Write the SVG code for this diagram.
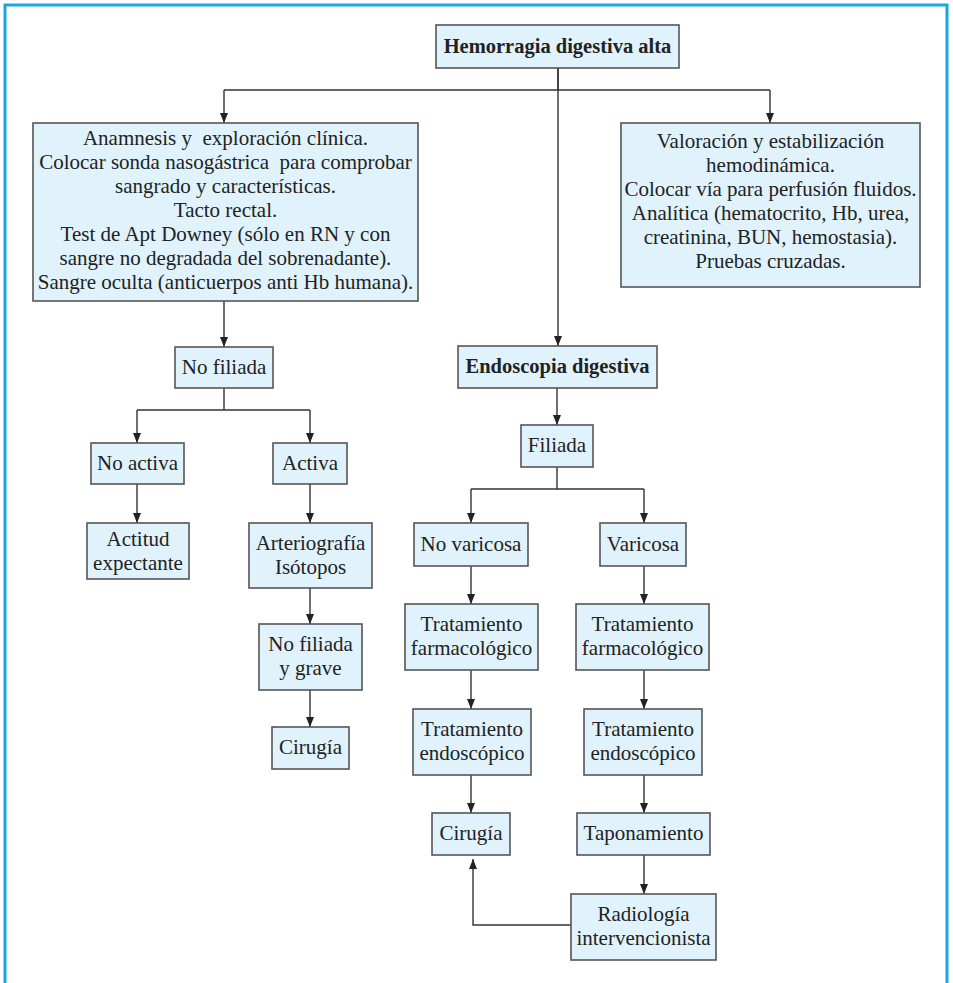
<svg xmlns="http://www.w3.org/2000/svg" width="953" height="983" viewBox="0 0 953 983">
<defs>
<marker id="ah" markerWidth="10" markerHeight="8" refX="10" refY="4" orient="auto" markerUnits="userSpaceOnUse" viewBox="0 0 10 8">
<path d="M0,0 L10,4 L0,8 Z" fill="#222"/>
</marker>
<style>
.bx{fill:#e0f2fc;stroke:#555;stroke-width:1.6}
.t{font-family:"Liberation Serif","Times New Roman",serif;font-size:21px;fill:#222;text-anchor:middle;white-space:pre}
.b{font-weight:bold;font-size:20.5px}
.c{fill:none;stroke:#333;stroke-width:1.4}
.ca{fill:none;stroke:#333;stroke-width:1.4;marker-end:url(#ah)}
</style>
</defs>
<rect width="953" height="983" fill="#fff"/>
<path d="M5,983 V5 H947 V983" fill="none" stroke="#1ba6e0" stroke-width="3"/>

<g id="connectors">
<path class="c" d="M558,68 V90 M224,90 H770"/>
<path class="ca" d="M558,68 V346"/>
<path class="ca" d="M224,90 V123"/>
<path class="ca" d="M770,90 V123"/>
<path class="ca" d="M224,301 V347"/>
<path class="c" d="M224,388 V410 M137,410 H310"/>
<path class="ca" d="M137,410 V443"/>
<path class="ca" d="M310,410 V443"/>
<path class="ca" d="M137,484 V523"/>
<path class="ca" d="M310,484 V523"/>
<path class="ca" d="M310,588 V624"/>
<path class="ca" d="M310,690 V727"/>
<path class="ca" d="M557,388 V425"/>
<path class="c" d="M557,467 V489 M471,489 H644"/>
<path class="ca" d="M471,489 V523"/>
<path class="ca" d="M644,489 V523"/>
<path class="ca" d="M471,566 V604"/>
<path class="ca" d="M644,566 V604"/>
<path class="ca" d="M471,670 V709"/>
<path class="ca" d="M644,670 V709"/>
<path class="ca" d="M471,775 V813"/>
<path class="ca" d="M644,775 V813"/>
<path class="ca" d="M644,855 V894"/>
<path class="ca" d="M571,925 H473 V859"/>
</g>

<g id="n-hemorragia">
<rect class="bx" x="436" y="25" width="243" height="43"/>
<text class="t b" x="557.5" y="53">Hemorragia digestiva alta</text>
</g>

<g id="n-anamnesis">
<rect class="bx" x="33" y="123" width="385" height="178"/>
<text class="t" x="225.5" y="145">Anamnesis y  exploración clínica.</text>
<text class="t" x="225.5" y="169">Colocar sonda nasogástrica  para comprobar</text>
<text class="t" x="225.5" y="193">sangrado y características.</text>
<text class="t" x="225.5" y="217">Tacto rectal.</text>
<text class="t" x="225.5" y="241">Test de Apt Downey (sólo en RN y con</text>
<text class="t" x="225.5" y="265">sangre no degradada del sobrenadante).</text>
<text class="t" x="225.5" y="289">Sangre oculta (anticuerpos anti Hb humana).</text>
</g>

<g id="n-valoracion">
<rect class="bx" x="621" y="123" width="299" height="164"/>
<text class="t" x="770.5" y="148">Valoración y estabilización</text>
<text class="t" x="770.5" y="172">hemodinámica.</text>
<text class="t" x="770.5" y="196">Colocar vía para perfusión fluidos.</text>
<text class="t" x="770.5" y="220">Analítica (hematocrito, Hb, urea,</text>
<text class="t" x="770.5" y="244">creatinina, BUN, hemostasia).</text>
<text class="t" x="770.5" y="268">Pruebas cruzadas.</text>
</g>

<g id="n-nofiliada">
<rect class="bx" x="175" y="347" width="98" height="41"/>
<text class="t" x="224" y="374">No filiada</text>
</g>

<g id="n-noactiva">
<rect class="bx" x="91" y="443" width="93" height="41"/>
<text class="t" x="137.5" y="470">No activa</text>
</g>

<g id="n-activa">
<rect class="bx" x="273" y="443" width="74" height="41"/>
<text class="t" x="310" y="470">Activa</text>
</g>

<g id="n-actitud">
<rect class="bx" x="87" y="523" width="102" height="56"/>
<text class="t" x="138" y="546">Actitud</text>
<text class="t" x="138" y="570">expectante</text>
</g>

<g id="n-arteriografia">
<rect class="bx" x="249" y="523" width="123" height="65"/>
<text class="t" x="310.5" y="550">Arteriografía</text>
<text class="t" x="310.5" y="574">Isótopos</text>
</g>

<g id="n-nofiliadagrave">
<rect class="bx" x="259" y="624" width="103" height="66"/>
<text class="t" x="310.5" y="651">No filiada</text>
<text class="t" x="310.5" y="675">y grave</text>
</g>

<g id="n-cirugia1">
<rect class="bx" x="272" y="727" width="77" height="42"/>
<text class="t" x="310.5" y="754">Cirugía</text>
</g>

<g id="n-endoscopia">
<rect class="bx" x="458" y="346" width="199" height="42"/>
<text class="t b" x="557.5" y="373">Endoscopia digestiva</text>
</g>

<g id="n-filiada">
<rect class="bx" x="521" y="425" width="72" height="42"/>
<text class="t" x="557" y="452">Filiada</text>
</g>

<g id="n-novaricosa">
<rect class="bx" x="414" y="523" width="114" height="43"/>
<text class="t" x="471" y="551">No varicosa</text>
</g>

<g id="n-varicosa">
<rect class="bx" x="600" y="523" width="86" height="43"/>
<text class="t" x="643" y="551">Varicosa</text>
</g>

<g id="n-farm1">
<rect class="bx" x="405" y="604" width="133" height="66"/>
<text class="t" x="471.5" y="631">Tratamiento</text>
<text class="t" x="471.5" y="655">farmacológico</text>
</g>

<g id="n-farm2">
<rect class="bx" x="576" y="604" width="133" height="66"/>
<text class="t" x="642.5" y="631">Tratamiento</text>
<text class="t" x="642.5" y="655">farmacológico</text>
</g>

<g id="n-endo1">
<rect class="bx" x="413" y="709" width="118" height="66"/>
<text class="t" x="472" y="736">Tratamiento</text>
<text class="t" x="472" y="760">endoscópico</text>
</g>

<g id="n-endo2">
<rect class="bx" x="584" y="709" width="118" height="66"/>
<text class="t" x="643" y="736">Tratamiento</text>
<text class="t" x="643" y="760">endoscópico</text>
</g>

<g id="n-cirugia2">
<rect class="bx" x="432" y="813" width="78" height="42"/>
<text class="t" x="471" y="840">Cirugía</text>
</g>

<g id="n-taponamiento">
<rect class="bx" x="577" y="813" width="133" height="42"/>
<text class="t" x="643.5" y="840">Taponamiento</text>
</g>

<g id="n-radiologia">
<rect class="bx" x="571" y="894" width="145" height="66"/>
<text class="t" x="643.5" y="921">Radiología</text>
<text class="t" x="643.5" y="945">intervencionista</text>
</g>
</svg>
